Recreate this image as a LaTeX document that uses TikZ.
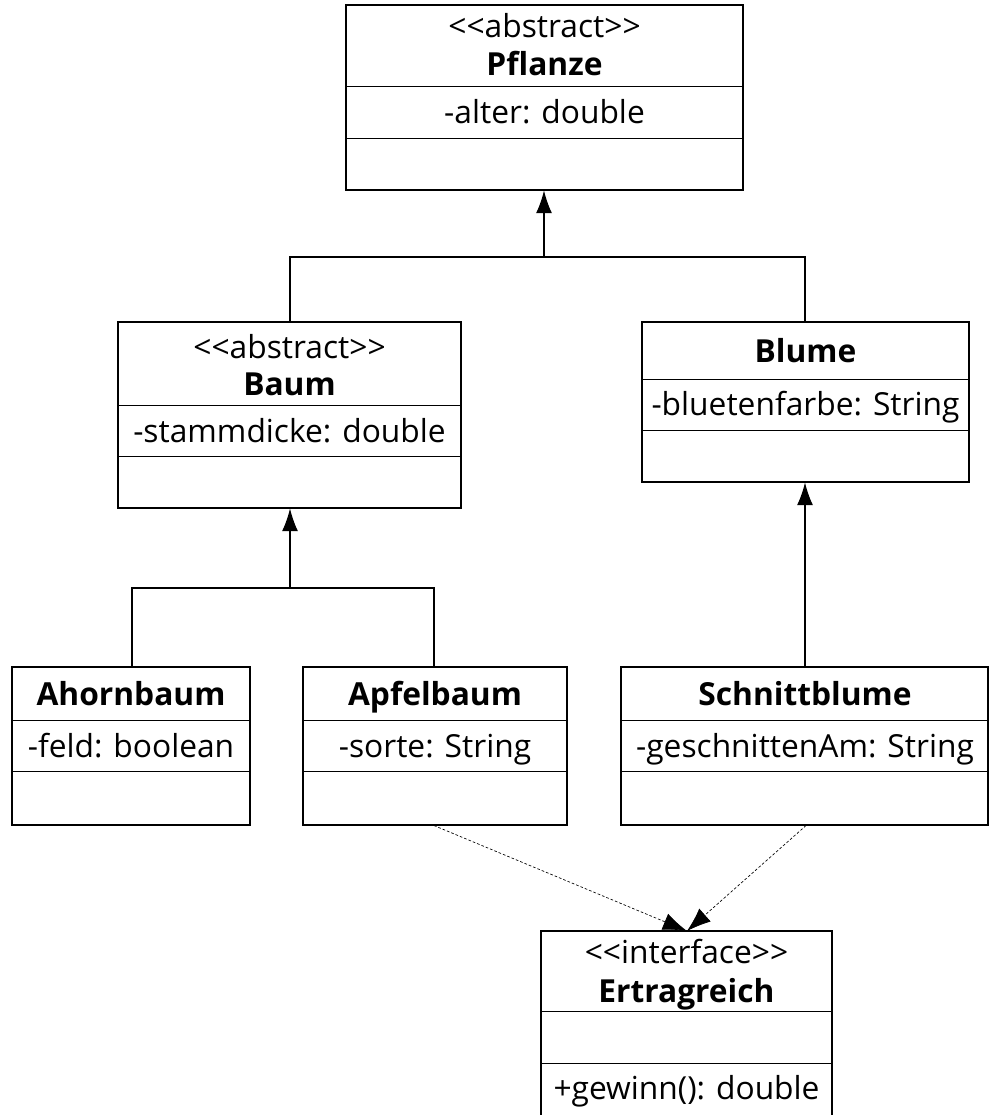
\documentclass[tikz,border=0pt]{standalone}
\usepackage{fontspec}
\setmainfont[Ligatures=NoCommon]{Open Sans}
\usetikzlibrary{fit,arrows.meta}
\newcommand{\gl}{{<}{<}}
\newcommand{\gr}{{>}{>}}
\begin{document}
\begin{tikzpicture}[x=0.75pt,y=-0.75pt,
  box/.style={draw, line width=0.8pt, inner sep=0pt},
  txt/.style={font=\fontsize{23.8}{26}\selectfont, inner sep=0pt, anchor=base},
  btxt/.style={font=\fontsize{23.8}{26}\selectfont\bfseries, inner sep=0pt, anchor=base},
  divl/.style={line width=0.6pt},
  gen/.style={line width=0.8pt, -{Latex[length=17pt,width=12pt]}},
  conn/.style={line width=0.8pt},
  real/.style={line width=0.5pt, dash pattern=on 2pt off 1.5pt, -{Latex[length=18pt,width=13pt]}}
]
\useasboundingbox (0,0) rectangle (989,1115);
\fill[white] (0,0) rectangle (989,1115);

% Pflanze
\node[box, fit={(346,5) (743,190)}] (pfl) {};
\draw[divl] (346,86) -- (743,86); \draw[divl] (346,138) -- (743,138);
\node[txt] (pfls) at (544.5,37) {\gl abstract\gr};
\node[btxt] (pfln) at (544.5,75) {Pflanze};
\node[txt] (pfla) at (544.5,123) {-alter: double};

% Baum
\node[box, fit={(118,322) (461,508)}] (baum) {};
\draw[divl] (118,405) -- (461,405); \draw[divl] (118,456) -- (461,456);
\node[txt] (baums) at (289.5,358) {\gl abstract\gr};
\node[btxt] (baumn) at (289.5,395) {Baum};
\node[txt] (bauma) at (289.5,442) {-stammdicke: double};

% Blume
\node[box, fit={(642,322) (969,482)}] (blume) {};
\draw[divl] (642,379) -- (969,379); \draw[divl] (642,430) -- (969,430);
\node[btxt] (blumen) at (805.5,362) {Blume};
\node[txt] (blumea) at (805.5,415) {-bluetenfarbe: String};

% Ahornbaum
\node[box, fit={(12,667) (250,825)}] (ahorn) {};
\draw[divl] (12,720) -- (250,720); \draw[divl] (12,771) -- (250,771);
\node[btxt] (ahornn) at (131,705) {Ahornbaum};
\node[txt] (ahorna) at (131,757) {-feld: boolean};

% Apfelbaum
\node[box, fit={(303,667) (567,825)}] (apfel) {};
\draw[divl] (303,720) -- (567,720); \draw[divl] (303,771) -- (567,771);
\node[btxt] (apfeln) at (435,705) {Apfelbaum};
\node[txt] (apfela) at (435,757) {-sorte: String};

% Schnittblume
\node[box, fit={(621,667) (988,825)}] (schnitt) {};
\draw[divl] (621,720) -- (988,720); \draw[divl] (621,771) -- (988,771);
\node[btxt] (schnittn) at (805,705) {Schnittblume};
\node[txt] (schnitta) at (805,757) {-geschnittenAm: String};

% Ertragreich
\node[box, fit={(541,931) (832,1118)}] (ertrag) {};
\draw[divl] (541,1011) -- (832,1011); \draw[divl] (541,1063) -- (832,1063);
\node[txt] (ertrags) at (686.5,963) {\gl interface\gr};
\node[btxt] (ertragn) at (686.5,1002) {Ertragreich};
\node[txt] (ertraga) at (686.5,1099) {+gewinn(): double};

% generalization to Pflanze
\coordinate (j1) at (544,257);
\draw[conn] (baum.north -| 290,0) |- (j1);
\draw[conn] (blume.north -| 805,0) |- (j1);
\draw[gen] (j1) -- (pfl.south -| j1);

% generalization to Baum
\coordinate (j2) at (290,588);
\draw[conn] (ahorn.north -| 132,0) |- (j2);
\draw[conn] (apfel.north -| 434,0) |- (j2);
\draw[gen] (j2) -- (baum.south -| j2);

% Schnittblume -> Blume
\draw[gen] (schnitt.north -| 805,0) -- (blume.south -| 805,0);

% realizations
\coordinate (tip) at (687,931);
\draw[real] (apfel.south -| 434,0) -- (tip);
\draw[real] (schnitt.south -| 806,0) -- (tip);
\end{tikzpicture}
\end{document}
